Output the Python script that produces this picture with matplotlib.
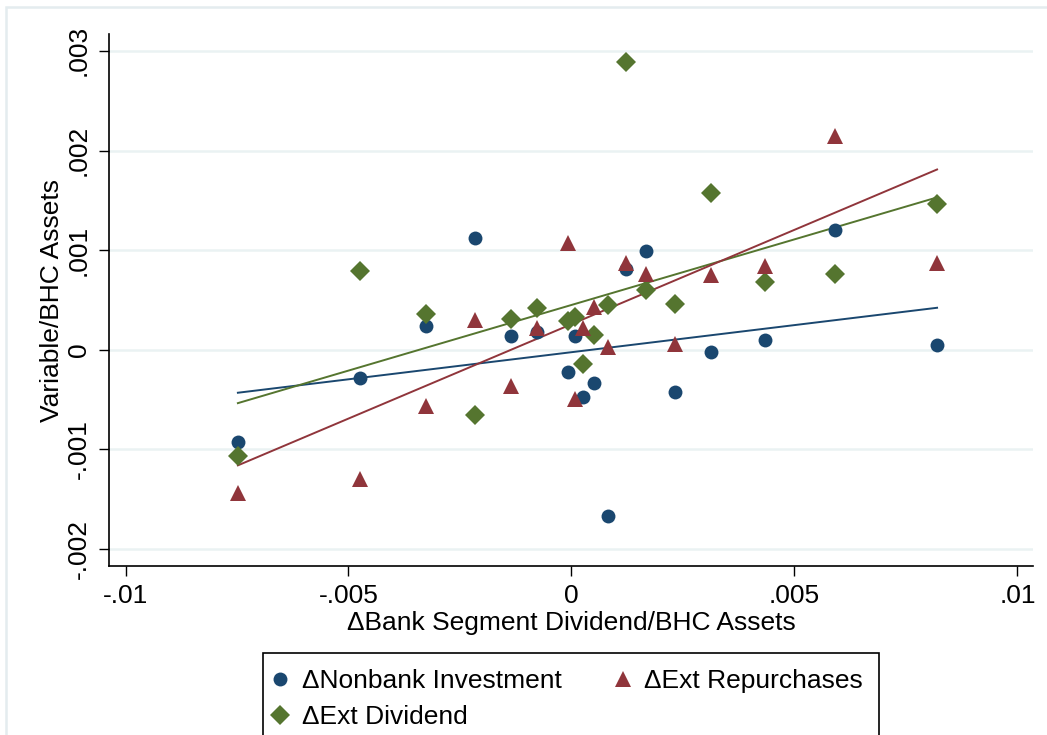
import numpy as np
import matplotlib.pyplot as plt
from matplotlib.lines import Line2D
from matplotlib.patches import Rectangle

plt.rcParams['font.family'] = ['Liberation Sans', 'DejaVu Sans']

# binned change in bank segment dividend (share of BHC assets)
bank_div = [-0.00748, -0.004744, -0.003271, -0.002171, -0.001348, -0.000774,
            -0.000074, 0.000072, 0.000262, 0.000505, 0.000823, 0.001216,
            0.001664, 0.002315, 0.003122, 0.004334, 0.005904, 0.008199]

nonbank_inv = [-0.000923, -0.000281, 0.000238, 0.001118, 0.000137, 0.000181,
               -0.000227, 0.000137, -0.000472, -0.000337, -0.001669, 0.00081,
               0.000993, -0.000421, -0.00002, 0.000097, 0.001201, 0.000047]

ext_repurch = [-0.001433, -0.001301, -0.000562, 0.000298, -0.000361, 0.000215,
               0.001068, -0.000498, 0.000215, 0.000425, 0.00003, 0.000873,
               0.00076, 0.000057, 0.00075, 0.00084, 0.002145, 0.000867]

ext_div = [-0.001067, 0.00079, 0.000355, -0.000655, 0.000308, 0.000421,
           0.000291, 0.000331, -0.000144, 0.000148, 0.000449, 0.00289,
           0.000599, 0.000456, 0.00157, 0.000682, 0.00076, 0.001462]

# linear fits (estimated on the underlying firm-level data): intercept, slope
fit_nonbank = (-0.000024, 0.0544)
fit_repurch = (0.000257, 0.18943)
fit_div = (0.00045, 0.13171)

xticks = [-0.01, -0.005, 0, 0.005, 0.01]
xtick_labels = ['-.01', '-.005', '0', '.005', '.01']
yticks = [-0.002, -0.001, 0, 0.001, 0.002, 0.003]
ytick_labels = ['-.002', '-.001', '0', '.001', '.002', '.003']

NAVY = '#1a476f'
MAROON = '#90353b'
FOREST = '#55752f'
GRID = '#eaf2f3'

W, H = 1047, 735
fig = plt.figure(figsize=(W / 100, H / 100), dpi=100)
ax = fig.add_axes([109 / W, 1 - 566 / H, (1033 - 109) / W, (566 - 34) / H])

x = np.array(bank_div)
xfit = np.array([x.min(), x.max()])

series = [
    (nonbank_inv, fit_nonbank, NAVY, 'o', 10, '\u0394Nonbank Investment'),
    (ext_div, fit_div, FOREST, 'D', 9.8, '\u0394Ext Dividend'),
    (ext_repurch, fit_repurch, MAROON, '^', 11.5, '\u0394Ext Repurchases'),
]

handles = []
for y, (icpt, slope), color, marker, ms, label in series:
    ax.plot(x, y, linestyle='none', marker=marker, ms=ms, color=color,
            markeredgewidth=0, zorder=3)
    ax.plot(xfit, icpt + slope * xfit, color=color, lw=1.4, zorder=2)
    handles.append(Line2D([], [], linestyle='none', marker=marker,
                          ms=ms, color=color, markeredgewidth=0,
                          label=label))

ax.set_xlim(-0.01037, 0.01035)
ax.set_ylim(-0.00217, 0.00317)
ax.set_xticks(xticks)
ax.set_xticklabels(xtick_labels)
ax.set_yticks(yticks)
ax.set_yticklabels(ytick_labels, rotation=90, va='center')

ax.tick_params(axis='both', labelsize=19, length=7, width=1, color='black')
ax.tick_params(axis='x', pad=6)
ax.tick_params(axis='y', pad=6)

ax.yaxis.grid(True, color=GRID, lw=1.8)
ax.set_axisbelow(True)
for side in ['top', 'right']:
    ax.spines[side].set_visible(False)
for side in ['left', 'bottom']:
    ax.spines[side].set_linewidth(1.2)

ax.set_xlabel('\u0394Bank Segment Dividend/BHC Assets', fontsize=19, labelpad=2)
ax.set_ylabel('Variable/BHC Assets', fontsize=19, labelpad=2)

fig.legend(handles=handles, loc='upper left', ncol=2, mode='expand',
           bbox_to_anchor=(263 / W, 0, (879 - 263) / W, 1 - 653 / H),
           fontsize=19, frameon=True, fancybox=False, edgecolor='black',
           framealpha=1, handlelength=0.1, handletextpad=0.78,
           labelspacing=0.47, borderpad=0.6, borderaxespad=0)
fig.legends[0].get_frame().set_linewidth(1.2)

# light border of the graph region
fig.patches.append(Rectangle((6 / W, -1), 2, (H - 7) / H + 1,
                             transform=fig.transFigure, fill=False,
                             edgecolor='#e4ecef', lw=1.8))

fig.savefig('out.png', dpi=100)
